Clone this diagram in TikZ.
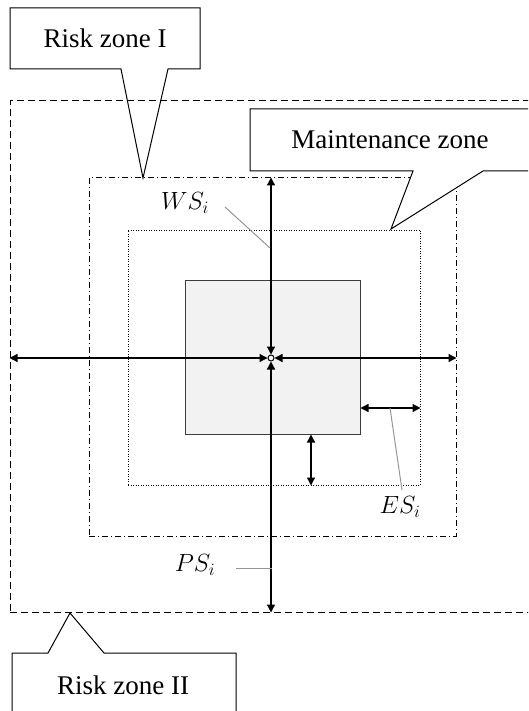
\documentclass[tikz,border=0pt]{standalone}
\usepackage{fontspec}
\setmainfont{Liberation Serif}
\usepackage{amsmath}
\usepackage{tikz}
\usetikzlibrary{arrows.meta, positioning, calc}
\usepackage{xcolor}
\definecolor{coregray}{RGB}{242,242,242}
\definecolor{edgegray}{RGB}{60,60,60}
\definecolor{leadgray}{RGB}{150,150,150}

\begin{document}
\begin{tikzpicture}[x=1pt, y=-1pt, line width=1pt,
    zone/.style={draw, inner sep=0pt},
    dbl/.style={{Triangle[length=8pt,width=8pt]}-{Triangle[length=8pt,width=8pt]}, line width=1.3pt},
    leader/.style={leadgray, line width=1pt},
    lbl/.style={font=\fontsize{27}{32}\selectfont, inner sep=0pt},
    callout/.style={draw, fill=white, line width=1pt}]
  \clip (0,0) rectangle (528,711);
  % Risk zone I callout
  \draw[callout] (10,8) -- (200,8) -- (200,69) -- (168,69) -- (143,178) -- (121,69) -- (10,69) -- cycle;
  \node[lbl] (rzone1) at (105,38) {Risk zone I};
  % Zones
  \node[zone, dash pattern=on 7pt off 4pt, minimum width=538pt, minimum height=511pt] (rz2) at (279,356.5) {};
  \node[zone, dash pattern=on 6pt off 3pt on 1pt off 3pt, minimum width=367pt, minimum height=358pt] (rz1) at (272.5,357) {};
  \node[zone, dash pattern=on 1pt off 1.5pt, minimum width=292pt, minimum height=255pt] (mz) at (274,357.5) {};
  \node[zone, draw=edgegray, fill=coregray, minimum width=175pt, minimum height=154pt] (core) at (272.5,357) {};
  \node[draw, fill=white, circle, inner sep=0pt, minimum size=6pt] (ctr) at (271,358) {};
  % Maintenance zone callout
  \draw[callout] (250,109) -- (560,109) -- (560,171) -- (483,171) -- (391,229) -- (413,171) -- (250,171) -- cycle;
  \node[lbl] (mzone) at (390,140) {Maintenance zone};
  % Risk zone II callout
  \draw[callout] (12,653) -- (48,653) -- (70,613) -- (104,653) -- (236,653) -- (236,730) -- (12,730) -- cycle;
  \node[lbl] (rzone2) at (123,685) {Risk zone II};
  % Distances from the centre
  \draw[dbl] (ctr) -- (ctr |- rz1.north);
  \draw[dbl] (ctr) -- (ctr -| rz2.west);
  \draw[dbl] (ctr) -- (ctr -| rz1.east);
  \draw[dbl] (ctr) -- (ctr |- rz2.south);
  \draw[dbl] ([yshift=-51pt]core.east) -- ([yshift=-51pt]core.east -| mz.east);
  \draw[dbl] ([xshift=38.5pt]core.south) -- ([xshift=38.5pt]core.south |- mz.south);
  % Labels
  \node[lbl] (ws) at (185,203) {$WS_i$};
  \node[lbl] (es) at (400,507) {$ES_i$};
  \node[lbl] (ps) at (195,565) {$PS_i$};
  \coordinate (wsend) at (270,248);
  \coordinate (esend) at (390,408);
  \coordinate (psend) at (272,568);
  \draw[leader] (225,207) -- (wsend);
  \draw[leader] (402,490) -- (esend);
  \draw[leader] (236,568) -- (psend);
\end{tikzpicture}
\end{document}
